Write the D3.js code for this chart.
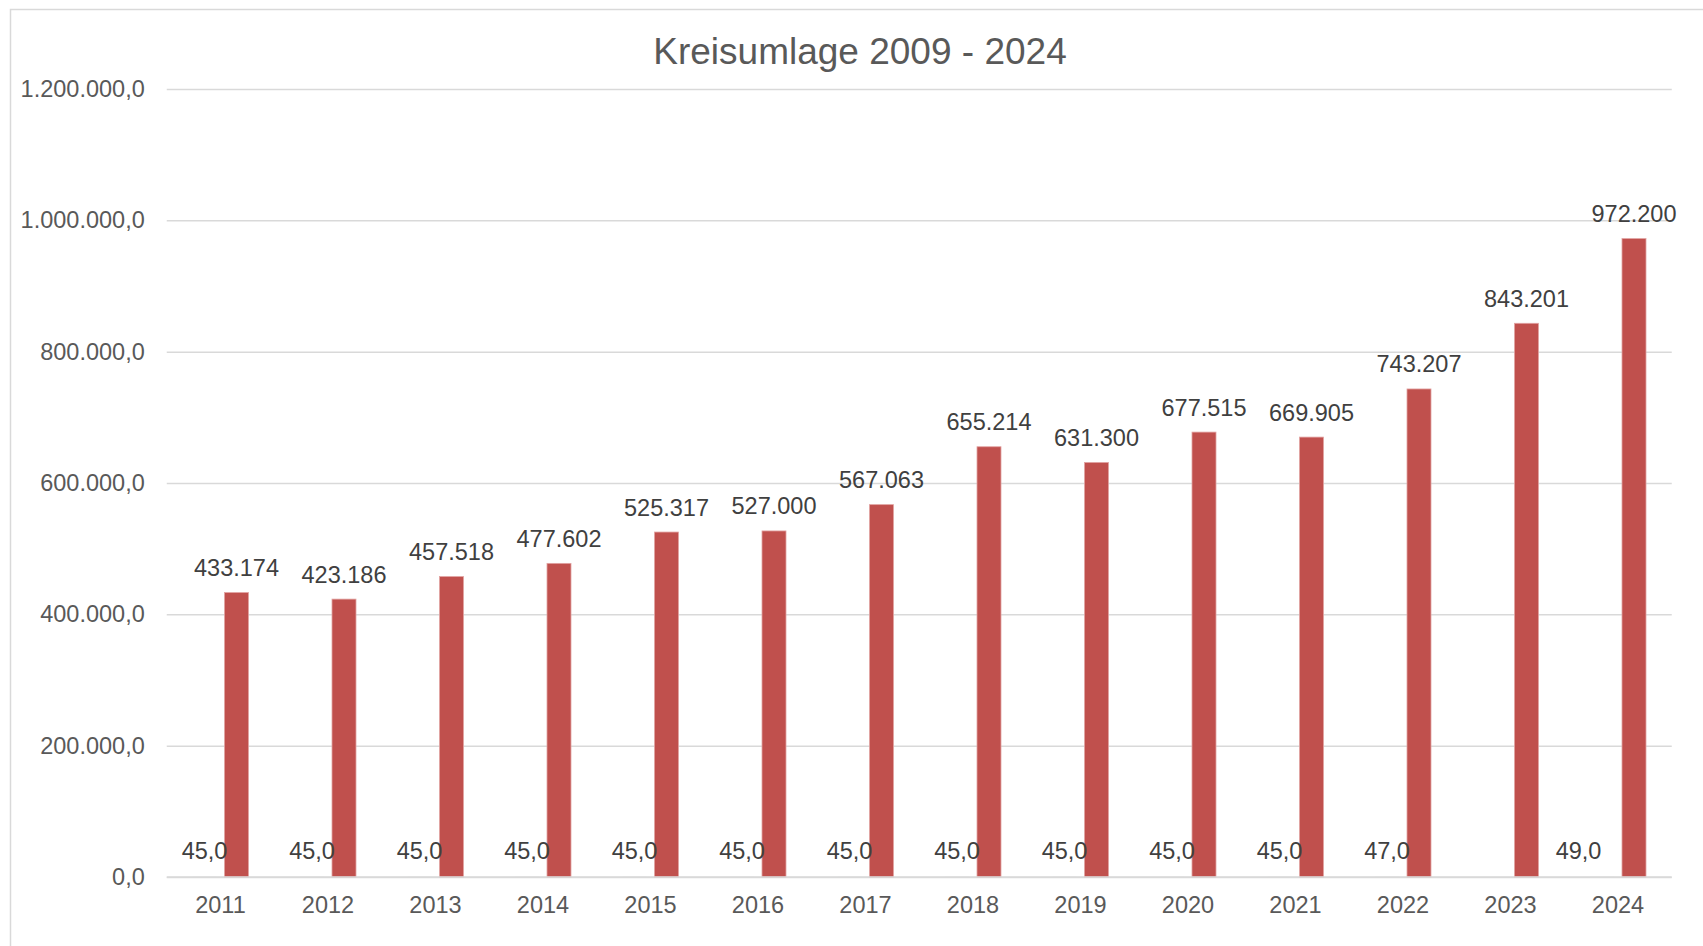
<!DOCTYPE html>
<html>
<head>
<meta charset="utf-8">
<script src="https://cdn.jsdelivr.net/npm/d3@7/dist/d3.min.js"></script>
<style>
  html, body { margin: 0; padding: 0; background: #fff; }
  svg { display: block; font-family: "Liberation Sans", Arial, sans-serif; }
</style>
</head>
<body>
<svg id="chart" width="1703" height="946"></svg>
<script>
// ---- data ----
const title = "Kreisumlage 2009 - 2024";
const years = ["2011","2012","2013","2014","2015","2016","2017","2018","2019","2020","2021","2022","2023","2024"];
const hebesatz = [45, 45, 45, 45, 45, 45, 45, 45, 45, 45, 45, 47, null, 49];
const umlage = [433174, 423186, 457518, 477602, 525317, 527000, 567063, 655214, 631300, 677515, 669905, 743207, 843201, 972200];
const yTicks = [0, 200000, 400000, 600000, 800000, 1000000, 1200000];

// ---- setup ----
const W = 1703, H = 946;
const plot = { left: 166.75, right: 1671.75, top: 89, bottom: 877 };
const de = d3.formatLocale({ decimal: ",", thousands: ".", grouping: [3], currency: ["", " €"] });
const fmtAxis = de.format(",.1f");
const fmtBig = de.format(",.0f");
const fmtSmall = de.format(",.1f");
// manually moved label in the original (style, not data)
const smallLabelNudge = { "2024": -23.5 };

const svg = d3.select("#chart");
svg.append("rect").attr("width", W).attr("height", H).attr("fill", "#fff");
// chart area border
svg.append("rect").attr("x", 10.5).attr("y", 9.5).attr("width", W + 20).attr("height", H + 20)
  .attr("fill", "none").attr("stroke", "#d9d9d9").attr("stroke-width", 1.5);

const x = d3.scaleBand().domain(years).range([plot.left, plot.right]).padding(0);
const y = d3.scaleLinear().domain([0, 1200000]).range([plot.bottom, plot.top]);

// title
svg.append("text").attr("x", 860).attr("y", 64).attr("text-anchor", "middle")
  .attr("font-size", 37).attr("fill", "#595959").text(title);

// y axis with gridlines
const yAxis = svg.append("g").attr("transform", `translate(${plot.left},0)`)
  .call(d3.axisLeft(y).tickValues(yTicks).tickFormat(fmtAxis)
    .tickSize(-(plot.right - plot.left)).tickPadding(22));
yAxis.select(".domain").remove();
yAxis.selectAll(".tick line").attr("stroke", "#d9d9d9").attr("stroke-width", 1.5);
yAxis.selectAll(".tick text").attr("font-size", 23.5).attr("fill", "#595959")
  .attr("font-family", "Liberation Sans, Arial, sans-serif");

// x axis
const xAxis = svg.append("g").attr("transform", `translate(0,${plot.bottom})`)
  .call(d3.axisBottom(x).tickSize(0).tickPadding(19.5));
xAxis.select(".domain").remove();
xAxis.selectAll(".tick text").attr("font-size", 23.5).attr("fill", "#595959")
  .attr("font-family", "Liberation Sans, Arial, sans-serif");

const barW = 24, gap = 8;
const cx = d => x(d) + x.bandwidth() / 2;

const s1 = years.map((yr, i) => ({ yr, v: hebesatz[i] })).filter(d => d.v != null);
const s2 = years.map((yr, i) => ({ yr, v: umlage[i] }));

// series 1 (Hebesatz) - tiny bars
svg.append("g").selectAll("rect").data(s1).join("rect")
  .attr("x", d => cx(d.yr) - gap / 2 - barW)
  .attr("width", barW)
  .attr("y", d => y(d.v))
  .attr("height", d => y(0) - y(d.v))
  .attr("fill", "#4f81bd");

// series 2 (Kreisumlage)
svg.append("g").selectAll("rect").data(s2).join("rect")
  .attr("x", d => cx(d.yr) + gap / 2)
  .attr("width", barW)
  .attr("y", d => y(d.v))
  .attr("height", d => y(0) - y(d.v))
  .attr("fill", "#c0504d")
  .attr("stroke", "#e2a3a2").attr("stroke-width", 0.8);

// baseline over bars
svg.append("line").attr("x1", plot.left).attr("x2", plot.right)
  .attr("y1", y(0)).attr("y2", y(0)).attr("stroke", "#d9d9d9").attr("stroke-width", 1.5);

// data labels (on top)
svg.append("g").selectAll("text").data(s1).join("text")
  .attr("x", d => cx(d.yr) - gap / 2 - barW / 2 + (smallLabelNudge[d.yr] || 0))
  .attr("y", d => y(d.v) - 17.5)
  .attr("text-anchor", "middle").attr("font-size", 23.5).attr("fill", "#404040")
  .text(d => fmtSmall(d.v));
svg.append("g").selectAll("text").data(s2).join("text")
  .attr("x", d => cx(d.yr) + gap / 2 + barW / 2)
  .attr("y", d => y(d.v) - 16.5)
  .attr("text-anchor", "middle").attr("font-size", 23.5).attr("fill", "#404040")
  .text(d => fmtBig(d.v));
</script>
</body>
</html>
